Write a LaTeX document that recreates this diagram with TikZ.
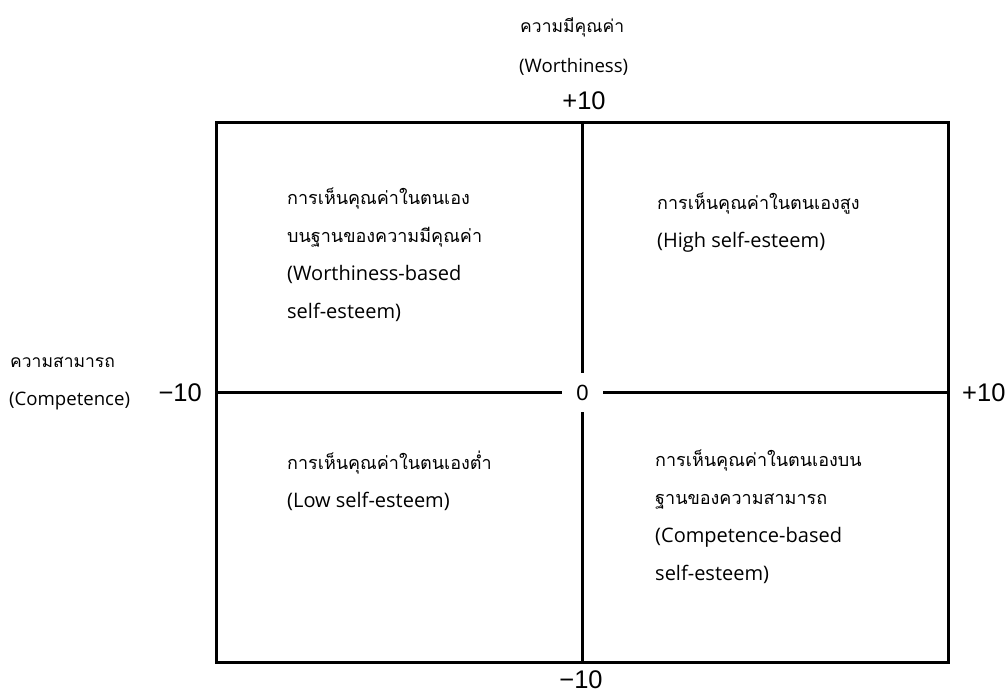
\documentclass[tikz,border=0pt]{standalone}
\usepackage{fontspec}
\setmainfont{Open Sans}
\newfontfamily\thaifont[Script=Thai]{Loma}
\newfontfamily\numfont{Liberation Sans}
\newcommand\thline[1]{{\thaifont\fontsize{18}{38}\selectfont #1}}
\usetikzlibrary{positioning}

\begin{document}
\begin{tikzpicture}[x=1pt,y=1pt,yscale=-1,xscale=1,
  axisline/.style={line width=3pt},
  quadtext/.style={anchor=base west,align=left,inner sep=0pt,font=\fontsize{20}{38}\selectfont},
  labeltext/.style={anchor=base west,inner sep=0pt,font=\fontsize{18.6}{23}\selectfont},
  thlabel/.style={anchor=base west,inner sep=0pt,font=\thaifont\fontsize{17.5}{23}\selectfont},
  numtext/.style={inner sep=0pt,font=\numfont\fontsize{25.5}{28}\selectfont}]
\useasboundingbox (0,0) rectangle (1008,693);

%Shape: Rectangle [frame]
\coordinate (boxnw) at (216,122);
\coordinate (boxse) at (948,662);
\draw [axisline] (boxnw) rectangle (boxse);

% Text Node [centre]
\node [numtext,font=\numfont\fontsize{22}{26}\selectfont,minimum width=40pt,minimum height=39pt] (zero) at (582.5,392.5) {0};

%Straight Lines [axes]
\coordinate (axtop) at (582.5,122);
\coordinate (axbot) at (582.5,662);
\coordinate (axlft) at (216,392.5);
\coordinate (axrgt) at (948,392.5);
\draw [axisline] (axtop) -- (zero);
\draw [axisline] (axbot) -- (zero);
\draw [axisline] (axlft) -- (zero);
\draw [axisline] (axrgt) -- (zero);

% Text Node [vertical axis]
\node [thlabel] (worthth) at (520,33) {ความมีคุณค่า};
\node [labeltext] (worthen) at (519,72) {(Worthiness)};
\node [numtext,anchor=base] (ytop) at (584,109) {+10};
\node [numtext,anchor=base] (ybot) at (581,688) {−10};

% Text Node [horizontal axis]
\node [thlabel] (compth) at (10,367) {ความสามารถ};
\node [labeltext] (compen) at (9,405) {(Competence)};
\node [numtext,anchor=base east] (xlft) at (202,401) {−10};
\node [numtext,anchor=base west] (xrgt) at (962,401) {+10};

% Text Node [quadrants, anchored at last line]
\node [quadtext] (qworth) at (287,318) {\thline{การเห็นคุณค่าในตนเอง}\\\thline{บนฐานของความมีคุณค่า}\\(Worthiness-based\\self-esteem)};
\node [quadtext] (qhigh) at (657,247) {\thline{การเห็นคุณค่าในตนเองสูง}\\(High self-esteem)};
\node [quadtext] (qlow) at (287,507) {\thline{การเห็นคุณค่าในตนเองต่ำ}\\(Low self-esteem)};
\node [quadtext] (qcomp) at (655,580) {\thline{การเห็นคุณค่าในตนเองบน}\\\thline{ฐานของความสามารถ}\\(Competence-based\\self-esteem)};

\end{tikzpicture}
\end{document}
